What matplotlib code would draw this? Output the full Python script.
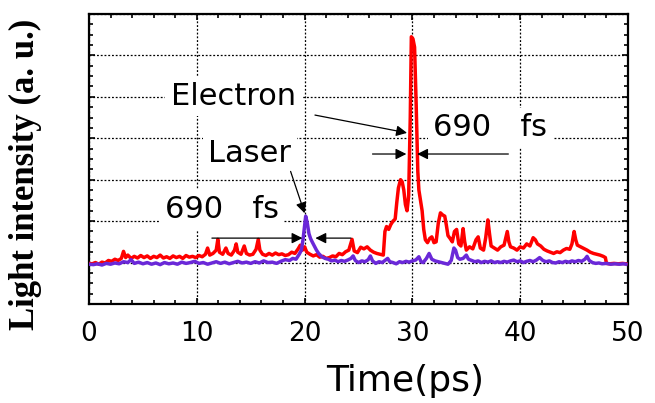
import numpy as np
import matplotlib.pyplot as plt
from matplotlib.ticker import MultipleLocator

# electron bunch signal (red)
t_e = [0.0, 0.3, 0.6, 0.9, 1.2, 1.5, 1.8, 2.1, 2.4, 2.7, 3.0, 3.2, 3.4, 3.6, 3.9,
       4.2, 4.5, 4.8, 5.1, 5.4, 5.7, 6.0, 6.3, 6.6, 6.9, 7.2, 7.5, 7.8, 8.1, 8.4,
       8.7, 9.0, 9.3, 9.6, 9.9, 10.2, 10.5, 10.8, 11.0, 11.2, 11.5, 11.8, 11.95, 12.1,
       12.4, 12.7, 12.9, 13.2, 13.5, 13.65, 13.8, 14.1, 14.4, 14.6, 14.9, 15.2, 15.5,
       15.7, 15.85, 16.1, 16.4, 16.7, 17.0, 17.3, 17.6, 17.9, 18.2, 18.5, 18.8, 19.1,
       19.4, 19.6, 19.8, 20.0, 20.2, 20.5, 20.8, 21.1, 21.4, 21.7, 22.0, 22.3, 22.6,
       22.9, 23.2, 23.5, 23.8, 24.1, 24.4, 24.6, 24.9, 25.2, 25.5, 25.8, 26.1, 26.4,
       26.7, 27.0, 27.3, 27.45, 27.6, 27.8, 28.0, 28.2, 28.4, 28.55, 28.7, 28.9, 29.05,
       29.2, 29.35, 29.5, 29.65, 29.8, 29.9, 30.05, 30.2, 30.35, 30.5, 30.6, 30.75,
       30.9, 31.05, 31.2, 31.4, 31.6, 31.8, 32.0, 32.2, 32.4, 32.6, 32.8, 33.0, 33.15,
       33.3, 33.5, 33.7, 33.9, 34.1, 34.3, 34.5, 34.7, 34.85, 35.0, 35.3, 35.6, 35.9,
       36.1, 36.3, 36.6, 36.8, 37.0, 37.15, 37.3, 37.6, 37.9, 38.2, 38.5, 38.8, 38.95,
       39.1, 39.4, 39.7, 40.0, 40.3, 40.6, 40.9, 41.2, 41.4, 41.6, 41.9, 42.2, 42.5,
       42.8, 43.1, 43.4, 43.7, 44.0, 44.3, 44.6, 44.8, 45.0, 45.15, 45.3, 45.6, 45.9,
       46.2, 46.5, 46.8, 47.1, 47.4, 47.7, 47.9, 48.0, 48.3, 48.7, 49.1, 49.5, 49.8]
i_e = [0.98, 0.97, 1.00, 0.96, 1.01, 0.99, 1.05, 1.03, 1.08, 1.05, 1.10, 1.27, 1.12, 1.18, 1.10,
       1.15, 1.11, 1.17, 1.12, 1.16, 1.10, 1.15, 1.12, 1.18, 1.11, 1.14, 1.10, 1.16, 1.12, 1.15,
       1.10, 1.17, 1.13, 1.15, 1.12, 1.17, 1.14, 1.20, 1.35, 1.18, 1.22, 1.30, 1.56, 1.25,
       1.20, 1.35, 1.22, 1.18, 1.30, 1.45, 1.25, 1.20, 1.40, 1.22, 1.18, 1.20, 1.32,
       1.56, 1.30, 1.20, 1.17, 1.22, 1.18, 1.23, 1.19, 1.21, 1.17, 1.19, 1.25, 1.22,
       1.33, 1.42, 1.30, 1.38, 1.25, 1.20, 1.16, 1.19, 1.13, 1.15, 1.10, 1.12, 1.16,
       1.14, 1.22, 1.19, 1.26, 1.30, 1.56, 1.28, 1.24, 1.37, 1.33, 1.38, 1.30, 1.25,
       1.22, 1.20, 1.18, 1.75, 1.87, 1.80, 1.92, 2.00, 2.05, 2.45, 2.80, 3.00, 2.95,
       2.75, 2.40, 2.25, 2.60, 4.50, 6.45, 6.40, 6.20, 4.80, 3.20, 2.75, 2.50,
       2.25, 1.80, 1.55, 1.48, 1.58, 1.62, 1.48, 1.50, 1.95, 2.20, 2.15, 2.12, 1.90,
       1.65, 1.58, 1.50, 1.75, 1.80, 1.45, 1.40, 1.82, 1.50, 1.30, 1.38, 1.33, 1.55,
       1.62, 1.35, 1.30, 1.60, 2.03, 1.70, 1.40, 1.35, 1.30, 1.38, 1.42, 1.75, 1.50,
       1.38, 1.35, 1.30, 1.38, 1.35, 1.45, 1.40, 1.60, 1.55, 1.45, 1.40, 1.32, 1.28,
       1.25, 1.22, 1.26, 1.24, 1.30, 1.34, 1.32, 1.45, 1.75, 1.55, 1.42, 1.38, 1.34,
       1.30, 1.25, 1.22, 1.20, 1.18, 1.15, 1.12, 0.98, 0.97, 0.98, 0.97, 0.98, 0.97]

# laser signal (purple)
t_l = [0.0, 0.4, 0.8, 1.2, 1.6, 2.0, 2.4, 2.8, 3.2, 3.6, 3.9, 4.2, 4.6, 5.0, 5.4,
       5.8, 6.2, 6.6, 7.0, 7.4, 7.8, 8.2, 8.6, 9.0, 9.4, 9.8, 10.2, 10.6, 11.0, 11.4,
       11.8, 12.2, 12.6, 13.0, 13.4, 13.8, 14.2, 14.6, 15.0, 15.4, 15.8, 16.2, 16.6,
       17.0, 17.4, 17.8, 18.2, 18.6, 18.9, 19.2, 19.5, 19.7, 19.85, 20.0, 20.1, 20.25,
       20.4, 20.55, 20.7, 20.9, 21.1, 21.3, 21.6, 21.9, 22.2, 22.5, 22.8, 23.1, 23.4,
       23.7, 24.0, 24.3, 24.5, 24.7, 25.0, 25.3, 25.6, 25.9, 26.1, 26.3, 26.6, 26.9,
       27.2, 27.5, 27.7, 27.9, 28.2, 28.5, 28.8, 29.1, 29.4, 29.7, 30.0, 30.3, 30.6,
       30.8, 31.0, 31.3, 31.55, 31.8, 32.1, 32.4, 32.7, 33.0, 33.3, 33.6, 33.85, 34.0,
       34.2, 34.4, 34.7, 35.0, 35.2, 35.5, 35.8, 36.1, 36.4, 36.7, 37.0, 37.3, 37.6,
       37.9, 38.2, 38.5, 38.8, 39.1, 39.4, 39.7, 40.0, 40.3, 40.6, 40.9, 41.2, 41.5,
       41.8, 42.1, 42.4, 42.7, 43.0, 43.3, 43.6, 43.9, 44.2, 44.5, 44.8, 45.1, 45.4,
       45.7, 46.0, 46.2, 46.4, 46.7, 47.0, 47.3, 47.6, 48.0, 48.4, 48.8, 49.2, 49.6, 49.8]
i_l = [0.96, 0.95, 0.97, 0.94, 0.98, 0.96, 0.99, 0.97, 1.02, 1.00, 1.07, 0.98, 1.01, 0.97, 1.00,
       0.96, 0.99, 0.95, 1.00, 0.97, 0.99, 0.96, 1.01, 0.98, 1.00, 1.03, 0.98, 1.00, 0.96, 0.99,
       1.02, 0.98, 1.01, 0.97, 1.00, 1.03, 0.99, 1.01, 0.98, 1.02, 0.99, 1.04, 1.00,
       1.01, 0.98, 1.03, 1.07, 1.05, 1.10, 1.08, 1.20, 1.30, 1.55, 1.90, 2.12, 1.95,
       1.70, 1.58, 1.50, 1.40, 1.30, 1.22, 1.14, 1.10, 1.08, 1.04, 1.06, 1.02, 1.05,
       1.03, 1.06, 1.10, 1.16, 1.05, 1.00, 1.04, 1.02, 1.07, 1.16, 1.04, 0.98, 1.02,
       1.00, 1.06, 1.10, 1.02, 1.00, 0.97, 1.02, 1.00, 1.03, 1.01, 1.04, 1.06, 1.14,
       1.02, 1.00, 1.10, 1.22, 1.08, 1.04, 1.02, 1.00, 0.98, 0.96, 1.05, 1.35, 1.30,
       1.12, 1.08, 1.10, 1.18, 1.08, 1.05, 1.02, 1.04, 1.00, 1.03, 1.01, 1.04, 1.00,
       1.02, 1.00, 1.03, 1.01, 1.04, 1.06, 1.02, 1.04, 1.00, 1.03, 1.05, 1.02, 1.06,
       1.12, 1.05, 1.02, 1.04, 1.00, 0.99, 1.02, 1.00, 1.03, 1.01, 1.04, 1.02, 1.05,
       1.03, 1.08, 1.15, 1.05, 1.00, 0.98, 0.99, 0.97, 0.98, 0.96, 0.97, 0.96, 0.97, 0.96]

fig = plt.figure(figsize=(6.55, 4.03), dpi=100)
ax = fig.add_axes([0.1359, 0.2457, 0.8229, 0.7196])

ax.plot(t_e, i_e, color="#ff0000", lw=2.5, zorder=3)
ax.plot(t_l, i_l, color="#6a28d8", lw=2.5, zorder=4)

ax.set_xlim(0, 50)
ax.set_ylim(0, 7)
ax.xaxis.set_major_locator(MultipleLocator(10))
ax.xaxis.set_minor_locator(MultipleLocator(2))
ax.yaxis.set_major_locator(MultipleLocator(1))
ax.yaxis.set_minor_locator(MultipleLocator(0.25))
ax.tick_params(which="both", direction="in", top=True, right=True, width=1.2)
ax.tick_params(which="major", length=4.5, pad=12, labelsize=19)
ax.tick_params(which="minor", length=3)
ax.set_yticklabels([])
for s in ax.spines.values():
    s.set_linewidth(1.6)
ax.grid(True, which="major", color="black", linestyle=(0, (1.5, 1.5)), lw=0.9)

box = dict(facecolor="white", edgecolor="none", pad=4)
arr = dict(arrowstyle="-|>", color="black", lw=0.9, mutation_scale=16, shrinkA=0, shrinkB=0)

ax.text(13.4, 5.02, "Electron", fontsize=22, ha="center", va="center", bbox=box, zorder=5)
ax.annotate("", xy=(29.5, 4.13), xytext=(20.96, 4.56), arrowprops=arr, zorder=6)
ax.text(37.2, 4.25, "690   fs", fontsize=22, ha="center", va="center", bbox=box, zorder=5)
ax.annotate("", xy=(29.44, 3.62), xytext=(26.3, 3.62), arrowprops=arr, zorder=6)
ax.annotate("", xy=(30.44, 3.62), xytext=(38.9, 3.62), arrowprops=arr, zorder=6)

ax.text(14.9, 3.64, "Laser", fontsize=22, ha="center", va="center", bbox=box, zorder=5)
ax.annotate("", xy=(20.0, 2.19), xytext=(18.7, 3.2), arrowprops=arr, zorder=6)
ax.text(12.3, 2.27, "690   fs", fontsize=22, ha="center", va="center", bbox=box, zorder=5)
ax.annotate("", xy=(19.8, 1.59), xytext=(11.4, 1.59), arrowprops=arr, zorder=6)
ax.annotate("", xy=(21.0, 1.59), xytext=(24.3, 1.59), arrowprops=arr, zorder=6)

fig.text(405 / 655, 1 - 381 / 403, "Time(ps)", fontsize=26, ha="center", va="center")
fig.text(25 / 655, 1 - 174 / 403, "Light intensity (a. u.)", fontsize=25,
         family="Liberation Serif", weight="bold", rotation=90, ha="center", va="center")

fig.savefig("out.png", dpi=100)
